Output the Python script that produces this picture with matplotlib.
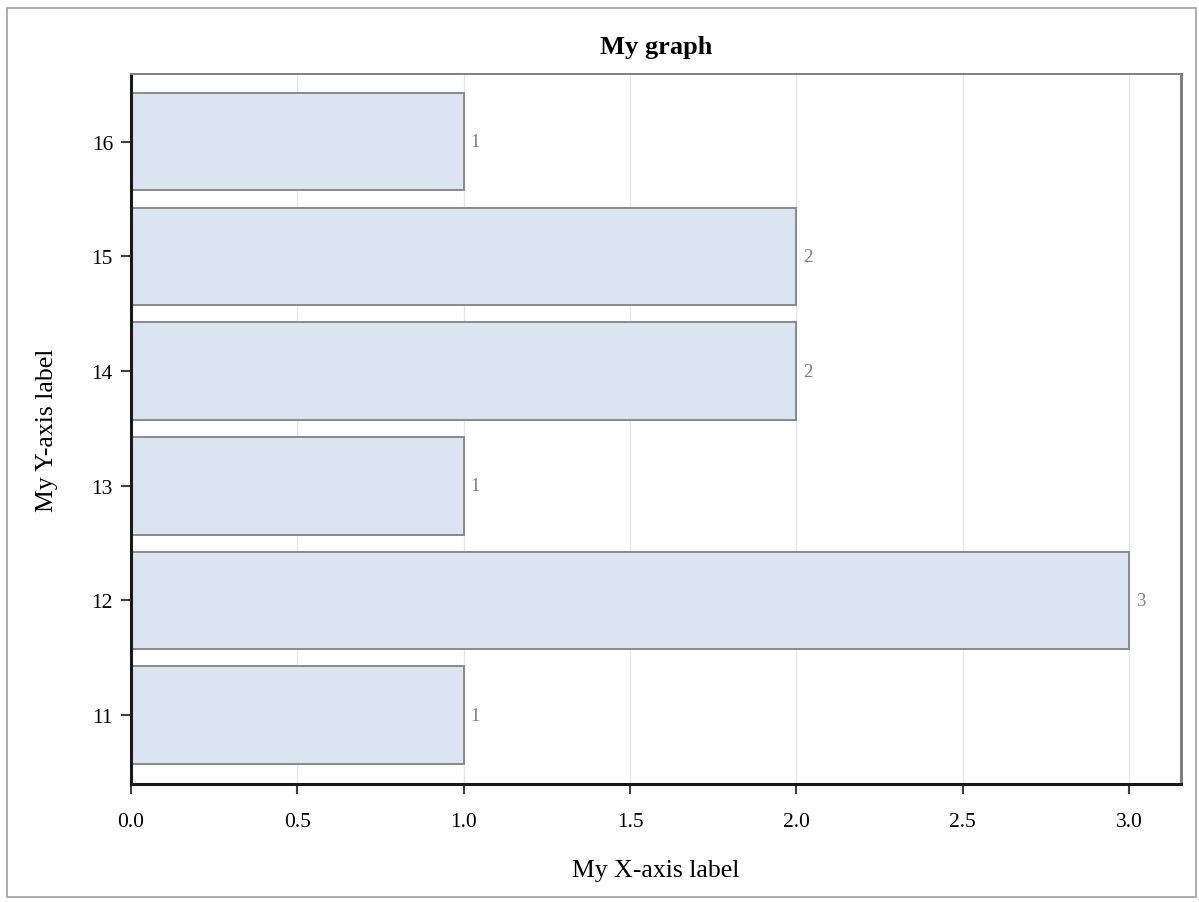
import matplotlib
matplotlib.use("Agg")
import matplotlib.pyplot as plt
from matplotlib.patches import Rectangle

plt.rcParams["font.family"] = ["Liberation Serif", "DejaVu Serif"]

# data
categories = [11, 12, 13, 14, 15, 16]
counts = [1, 3, 1, 2, 2, 1]
xticks = [0.0, 0.5, 1.0, 1.5, 2.0, 2.5, 3.0]

fig = plt.figure(figsize=(11.99, 9.03), dpi=100)
fig.patch.set_facecolor("white")
ax = fig.add_axes([131 / 1199, 1 - 785 / 903, 1050 / 1199, 710 / 903])

# outer frame round the whole graph
fig.patches.append(Rectangle((7 / 1199, 1 - 898 / 903), 1189 / 1199, 889 / 903,
                             transform=fig.transFigure, fill=False,
                             edgecolor="#a0a0a0", linewidth=1.2))

ax.set_axisbelow(True)
ax.grid(axis="x", color="#e6e6e6", linewidth=1.0)
bars = ax.barh(categories, counts, height=0.85, color="#dbe5f1",
               edgecolor="#8a8a8a", linewidth=1.4)

for cat, val in zip(categories, counts):
    ax.text(val + 0.02, cat, str(val), va="center", ha="left",
            fontsize=13.5, color="#808080")

ax.set_xlim(0, 3.156)
ax.set_ylim(10.40, 16.59)
ax.set_xticks(xticks)
ax.set_xticklabels([f"{t:.1f}" for t in xticks])
ax.set_yticks(categories)

ax.tick_params(axis="both", direction="out", length=7.5, width=1.5,
               color="#404040", labelsize=15.5, labelcolor="black")
ax.tick_params(axis="x", pad=13)
ax.tick_params(axis="y", pad=5.5)

ax.spines["left"].set_color("#1a1a1a")
ax.spines["left"].set_linewidth(2.2)
ax.spines["bottom"].set_color("#1a1a1a")
ax.spines["bottom"].set_linewidth(2.2)
ax.spines["top"].set_color("#808080")
ax.spines["top"].set_linewidth(1.4)
ax.spines["right"].set_color("#808080")
ax.spines["right"].set_linewidth(2.2)

ax.set_title("My graph", fontsize=19, fontweight="bold", pad=15)
ax.set_xlabel("My X-axis label", fontsize=18.5, labelpad=20)
ax.set_ylabel("My Y-axis label", fontsize=18.5, labelpad=24)

fig.savefig("out.png", dpi=100)
